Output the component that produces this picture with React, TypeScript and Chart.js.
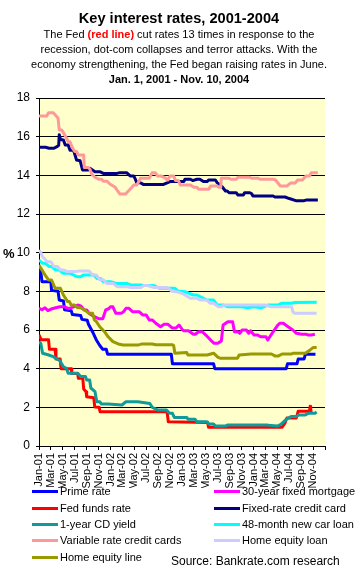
import React, { useEffect, useRef } from 'react';
import { Chart, registerables } from 'chart.js';

Chart.register(...registerables);

// X tick labels (every two months, x value = months since Jan 1, 2001)
const xTickLabels = [
  'Jan-01', 'Mar-01', 'May-01', 'Jul-01', 'Sep-01', 'Nov-01',
  'Jan-02', 'Mar-02', 'May-02', 'Jul-02', 'Sep-02', 'Nov-02',
  'Jan-03', 'Mar-03', 'May-03', 'Jul-03', 'Sep-03', 'Nov-03',
  'Jan-04', 'Mar-04', 'May-04', 'Jul-04', 'Sep-04', 'Nov-04',
];

// Prime rate
const primeM = [0, 0.3, 0.5, 2.0, 2.1, 3.2, 3.4, 4.1, 4.3, 5.4, 5.6, 7.0, 7.2, 8.1, 8.3, 9.0, 9.6, 10.2, 10.7, 11.3, 11.5, 22.2, 22.4, 29.3, 29.5, 41.5, 41.7, 43.3, 43.5, 44.5, 44.7, 46.4];
const primeV = [9.2, 9.0, 8.5, 8.5, 8.05, 8.0, 7.55, 7.5, 7.05, 7.0, 6.8, 6.75, 6.55, 6.5, 6.3, 5.9, 5.5, 5.2, 5.0, 5.0, 4.75, 4.75, 4.25, 4.25, 4.0, 4.0, 4.25, 4.25, 4.5, 4.5, 4.75, 4.75];

// 30-year fixed mortgage
const mortM = [0, 0.5, 1.0, 1.5, 2.2, 2.8, 3.5, 4.3, 5.0, 5.8, 6.5, 7.0, 7.6, 8.0, 8.4, 9.3, 10.1, 10.7, 11.2, 11.7, 12.0, 12.4, 12.9, 13.8, 14.2, 14.6, 15.1, 15.7, 16.8, 17.4, 18.0, 18.5, 19.0, 19.6, 20.4, 21.0, 21.6, 22.4, 23.0, 23.5, 24.1, 24.3, 25.1, 25.9, 26.2, 26.8, 27.4, 28.0, 28.8, 29.4, 30.0, 30.6, 30.9, 31.7, 32.5, 32.8, 33.4, 33.7, 34.1, 34.8, 35.2, 35.5, 36.1, 36.7, 37.2, 38.1, 38.4, 39.2, 40.1, 40.4, 41.0, 41.8, 42.6, 43.2, 44.1, 44.9, 45.2, 45.7, 46.3];
const mortV = [7.12, 7.05, 7.15, 7.0, 7.1, 7.15, 7.2, 7.2, 7.1, 7.2, 7.29, 7.25, 7.04, 7.04, 6.86, 6.69, 6.58, 6.58, 7.04, 7.1, 7.2, 7.2, 6.86, 6.86, 6.95, 7.12, 7.12, 6.95, 6.95, 6.78, 6.78, 6.52, 6.52, 6.35, 6.17, 6.3, 6.3, 6.1, 6.1, 6.26, 6.0, 5.96, 5.96, 5.78, 5.78, 5.91, 5.91, 5.74, 5.48, 5.31, 5.31, 5.43, 6.26, 6.43, 6.43, 5.91, 5.91, 5.83, 6.0, 6.0, 5.83, 5.96, 5.74, 5.74, 5.65, 5.65, 5.48, 5.87, 6.26, 6.35, 6.35, 6.17, 6.0, 5.83, 5.78, 5.78, 5.74, 5.74, 5.78];

// Fed funds rate
const fedM = [0, 0.35, 1.6, 1.75, 2.7, 2.85, 3.55, 3.7, 5.4, 5.5, 6.5, 6.6, 7.35, 7.5, 7.9, 8.0, 9.2, 9.35, 10.1, 10.25, 21.5, 21.7, 28.3, 28.45, 40.8, 41.3, 41.6, 43.2, 43.5, 45.4, 45.5, 45.6, 45.9];
const fedV = [5.75, 5.5, 5.5, 5.0, 5.0, 4.5, 4.5, 4.0, 4.0, 3.75, 3.75, 3.5, 3.5, 2.95, 2.8, 2.55, 2.5, 2.02, 2.0, 1.77, 1.77, 1.25, 1.22, 0.97, 0.97, 1.2, 1.45, 1.45, 1.8, 1.8, 2.05, 1.8, 1.8];

// Fixed-rate credit card
const fixM = [0, 1.1, 1.7, 2.5, 3.1, 3.3, 3.4, 3.6, 4.1, 4.4, 4.9, 5.2, 5.8, 6.05, 6.3, 6.9, 7.1, 7.3, 8.3, 8.6, 9.4, 10.2, 10.8, 13.1, 13.6, 14.7, 15.3, 15.9, 16.1, 16.4, 17.0, 17.5, 20.9, 21.4, 22.0, 24.3, 24.5, 25.4, 25.8, 26.5, 27.0, 27.6, 28.2, 28.5, 29.6, 29.9, 30.7, 31.3, 31.6, 31.9, 33.1, 33.4, 34.3, 34.5, 35.4, 35.7, 35.9, 39.3, 39.6, 41.3, 42.0, 43.1, 44.5, 44.8, 46.8];
const fixV = [15.45, 15.45, 15.4, 15.4, 15.5, 15.55, 16.1, 15.85, 15.83, 15.57, 15.57, 15.3, 15.3, 15.05, 14.79, 14.75, 14.53, 14.28, 14.28, 14.36, 14.19, 14.19, 14.1, 14.1, 14.14, 14.14, 13.97, 13.97, 13.85, 13.62, 13.62, 13.53, 13.53, 13.6, 13.68, 13.68, 13.8, 13.8, 13.73, 13.8, 13.8, 13.68, 13.68, 13.76, 13.76, 13.62, 13.42, 13.19, 13.19, 13.1, 13.1, 12.98, 12.98, 13.1, 13.1, 13.05, 12.93, 12.93, 12.88, 12.88, 12.8, 12.69, 12.69, 12.72, 12.72];

// 1-year CD yield
const cdM = [0, 0.3, 0.6, 1.5, 2.4, 3.0, 3.5, 4.1, 4.6, 4.9, 6.5, 7.0, 7.8, 8.0, 8.5, 8.7, 9.4, 9.7, 10.2, 10.5, 11.6, 13.9, 14.6, 16.6, 18.6, 19.0, 20.0, 21.4, 21.9, 22.4, 22.7, 24.8, 25.0, 26.2, 26.5, 28.2, 28.5, 29.3, 29.6, 31.3, 31.6, 38.4, 40.0, 40.6, 41.5, 42.3, 43.2, 43.5, 44.6, 45.2, 46.3, 46.6];
const cdV = [5.4, 5.3, 4.8, 4.72, 4.62, 4.5, 4.41, 4.1, 4.02, 3.76, 3.76, 3.59, 3.59, 3.41, 3.41, 3.0, 2.81, 2.29, 2.29, 2.17, 2.17, 2.12, 2.29, 2.29, 2.2, 2.0, 1.86, 1.86, 1.69, 1.69, 1.48, 1.48, 1.38, 1.38, 1.26, 1.26, 1.14, 1.14, 1.03, 1.03, 1.08, 1.08, 1.03, 1.12, 1.38, 1.52, 1.52, 1.6, 1.6, 1.69, 1.69, 1.76];

// 48-month new car loan
const carM = [0, 0.6, 1.1, 1.7, 2.2, 2.8, 3.4, 4.1, 5.2, 6.4, 7.0, 7.5, 9.2, 9.7, 10.3, 10.8, 12.0, 13.1, 14.8, 15.4, 17.1, 17.6, 19.3, 20.2, 22.8, 23.3, 24.5, 25.9, 26.5, 28.2, 29.3, 29.9, 31.0, 31.7, 34.0, 35.0, 36.0, 37.3, 38.4, 40.1, 40.7, 42.4, 42.9, 46.6];
const carV = [9.62, 9.45, 9.45, 9.28, 9.28, 9.1, 9.1, 8.93, 8.93, 8.76, 8.76, 8.85, 8.85, 8.67, 8.67, 8.5, 8.5, 8.4, 8.4, 8.33, 8.33, 8.3, 8.3, 8.16, 8.16, 8.02, 7.98, 7.81, 7.81, 7.55, 7.55, 7.29, 7.29, 7.2, 7.2, 7.15, 7.2, 7.15, 7.29, 7.29, 7.38, 7.38, 7.42, 7.43];

// Variable rate credit cards
const varM = [0, 1.3, 1.6, 2.4, 2.8, 3.2, 3.4, 3.8, 4.1, 4.65, 4.9, 5.2, 5.65, 6.0, 6.3, 6.6, 7.5, 7.6, 8.3, 8.6, 8.85, 9.4, 10.0, 10.5, 10.8, 11.4, 11.9, 12.8, 13.2, 13.6, 14.5, 15.0, 15.6, 15.9, 16.4, 16.8, 17.0, 18.5, 19.0, 19.5, 19.9, 20.4, 21.0, 21.6, 22.0, 22.6, 22.9, 23.4, 23.7, 25.4, 26.0, 26.5, 26.8, 28.5, 28.8, 29.9, 30.2, 30.5, 30.6, 31.9, 32.2, 33.1, 33.4, 35.4, 35.7, 36.8, 37.1, 39.3, 39.7, 40.5, 41.6, 42.2, 43.0, 43.4, 44.2, 44.8, 45.4, 45.7, 46.8];
const varV = [17.07, 17.07, 17.24, 17.24, 17.1, 16.95, 16.35, 16.35, 16.2, 15.9, 15.74, 15.74, 15.4, 15.23, 15.23, 15.05, 15.05, 14.41, 14.41, 14.28, 14.06, 13.9, 13.8, 13.8, 13.7, 13.7, 13.55, 13.38, 13.19, 13.03, 13.03, 13.19, 13.38, 13.5, 13.5, 13.7, 13.85, 13.85, 14.14, 14.14, 13.97, 13.97, 13.9, 13.76, 13.97, 13.97, 13.73, 13.73, 13.5, 13.5, 13.38, 13.38, 13.28, 13.28, 13.45, 13.45, 13.38, 13.38, 13.85, 13.85, 13.8, 13.8, 13.9, 13.9, 13.85, 13.85, 13.8, 13.8, 13.76, 13.45, 13.45, 13.6, 13.6, 13.76, 13.76, 13.97, 13.97, 14.14, 14.14];

// Home equity loan
const heLoanM = [0, 0.3, 0.6, 1.4, 2.0, 2.5, 3.1, 3.6, 4.2, 4.7, 6.2, 6.7, 8.4, 9.0, 9.6, 10.2, 10.8, 11.4, 12.5, 13.1, 14.8, 15.4, 17.1, 17.6, 18.2, 19.3, 21.6, 22.2, 23.5, 24.3, 25.4, 26.5, 27.1, 28.2, 28.7, 29.3, 30.1, 30.7, 31.0, 37.9, 39.0, 42.4, 42.6, 42.9, 46.6];
const heLoanV = [10.14, 10.0, 9.79, 9.53, 9.53, 9.28, 9.28, 9.1, 9.1, 9.02, 9.02, 9.05, 9.05, 8.85, 8.85, 8.6, 8.6, 8.4, 8.4, 8.24, 8.24, 8.2, 8.2, 8.3, 8.3, 8.2, 8.2, 8.02, 7.95, 7.85, 7.64, 7.64, 7.55, 7.55, 7.38, 7.38, 7.2, 7.2, 7.29, 7.29, 7.2, 7.2, 6.95, 6.86, 6.86];

// Home equity line
const heLineM = [0, 0.3, 1.0, 1.6, 2.1, 2.7, 3.6, 4.1, 4.8, 5.1, 5.4, 6.0, 6.5, 7.0, 7.6, 8.4, 9.0, 9.3, 9.6, 10.2, 11.0, 11.6, 12.4, 13.3, 14.1, 16.6, 17.3, 19.0, 19.6, 22.4, 22.6, 22.8, 24.8, 25.0, 28.2, 29.3, 30.0, 30.4, 33.3, 33.6, 35.6, 39.0, 39.6, 40.2, 40.8, 42.4, 42.7, 44.7, 45.5, 46.0, 46.6];
const heLineV = [9.36, 9.2, 8.85, 8.59, 8.59, 8.16, 8.16, 7.81, 7.47, 7.47, 7.29, 7.29, 7.15, 7.15, 7.04, 6.86, 6.86, 6.52, 6.45, 6.17, 5.91, 5.65, 5.4, 5.28, 5.22, 5.22, 5.28, 5.28, 5.24, 5.24, 5.2, 4.8, 4.83, 4.71, 4.71, 4.8, 4.6, 4.54, 4.54, 4.71, 4.76, 4.76, 4.66, 4.66, 4.76, 4.76, 4.8, 4.8, 4.97, 5.09, 5.09];

const seriesNames = [
  'Prime rate', '30-year fixed mortgage', 'Fed funds rate', 'Fixed-rate credit card',
  '1-year CD yield', '48-month new car loan', 'Variable rate credit cards',
  'Home equity loan', 'Home equity line',
];
const seriesColors = [
  '#0000FF', '#FF00FF', '#FF0000', '#000080',
  '#119A9A', '#00FFFF', '#FF9999', '#CCCCFF', '#999900',
];
const seriesData = [
  [primeM, primeV], [mortM, mortV], [fedM, fedV], [fixM, fixV],
  [cdM, cdV], [carM, carV], [varM, varV], [heLoanM, heLoanV], [heLineM, heLineV],
];

const FONT = '"Liberation Sans", Arial, Helvetica, sans-serif';

const plotBg = {
  id: 'plotBg',
  beforeDraw(chart: any) {
    const { ctx, chartArea: a } = chart;
    ctx.save();
    ctx.fillStyle = '#FFFFCC';
    ctx.fillRect(a.left, a.top, a.right - a.left, a.bottom - a.top);
    ctx.restore();
  },
};

export default function App() {
  const ref = useRef<HTMLCanvasElement | null>(null);

  useEffect(() => {
    if (!ref.current) return;
    const datasets = seriesData.map(([xs, ys], i) => ({
      label: seriesNames[i],
      data: xs.map((x, j) => ({ x, y: ys[j] })),
      borderColor: seriesColors[i],
      backgroundColor: seriesColors[i],
      borderWidth: 3,
      borderJoinStyle: 'round' as const,
      borderCapStyle: 'butt' as const,
      pointRadius: 0,
      tension: 0,
      fill: false,
      order: 20 - i,
    }));
    const chart = new Chart(ref.current, {
      type: 'line',
      data: { datasets },
      plugins: [plotBg],
      options: {
        animation: false,
        responsive: false,
        devicePixelRatio: 1,
        layout: { padding: { top: 98, left: 0, right: 36, bottom: 84 } },
        plugins: { legend: { display: false }, tooltip: { enabled: false }, title: { display: false } },
        scales: {
          x: {
            type: 'linear',
            min: 0,
            max: 48,
            afterFit: (s: any) => { s.height = 42; },
            ticks: {
              stepSize: 2,
              autoSkip: false,
              maxRotation: 90,
              minRotation: 90,
              padding: 3,
              color: '#000',
              font: { family: '"Liberation Sans Narrow", ' + FONT, size: 11 },
              callback: (v: any) => xTickLabels[Math.round(Number(v) / 2)] ?? '',
            },
            grid: { drawOnChartArea: false, drawTicks: true, tickLength: 4, color: '#000', lineWidth: 1 },
            border: { color: '#000', width: 1 },
          },
          y: {
            min: 0,
            max: 18,
            afterFit: (s: any) => { s.width = 39; },
            ticks: { stepSize: 2, color: '#000', padding: 6, font: { family: FONT, size: 12 } },
            grid: { color: '#000', lineWidth: 1, tickLength: 3 },
            border: { color: '#000', width: 1 },
          },
        },
      },
    });
    return () => chart.destroy();
  }, []);

  const abs = (s: React.CSSProperties): React.CSSProperties => ({ position: 'absolute', whiteSpace: 'nowrap', ...s });
  const rowsY = [484, 501, 517, 533, 550];
  const legendLeft = seriesNames.map((_, i) => (i % 2 === 0 ? 32 : 214));
  const legendRow = seriesNames.map((_, i) => Math.floor(i / 2));

  return (
    <div style={{ position: 'absolute', left: 0, top: 0, width: 361, height: 572, fontFamily: FONT, color: '#000', background: '#fff' }}>
      <canvas ref={ref} width={361} height={572} style={{ position: 'absolute', left: 0, top: 0, width: 361, height: 572 }} />
      <div style={abs({ left: 0, width: 358, top: 9, textAlign: 'center', fontWeight: 'bold', fontSize: 14.6, lineHeight: '18px' })}>
        Key interest rates, 2001-2004
      </div>
      <div style={abs({ left: 0, width: 358, top: 27, textAlign: 'center', fontSize: 11, lineHeight: '15px' })}>
        The Fed <span style={{ color: '#FF0000', fontWeight: 'bold' }}>(red line)</span> cut rates 13 times in response to the
      </div>
      <div style={abs({ left: 0, width: 358, top: 42, textAlign: 'center', fontSize: 11, lineHeight: '15px' })}>
        recession, dot-com collapses and terror attacks. With the
      </div>
      <div style={abs({ left: 0, width: 358, top: 57, textAlign: 'center', fontSize: 11, lineHeight: '15px' })}>
        economy strengthening, the Fed began raising rates in June.
      </div>
      <div style={abs({ left: 0, width: 358, top: 72, textAlign: 'center', fontSize: 11, fontWeight: 'bold', lineHeight: '15px' })}>
        Jan. 1, 2001 - Nov. 10, 2004
      </div>
      <div style={abs({ left: 3, top: 246, fontSize: 13, fontWeight: 'bold', lineHeight: '15px' })}>%</div>
      {seriesNames.map((name, i) => (
        <React.Fragment key={name}>
          <div style={abs({ left: legendLeft[i], top: rowsY[legendRow[i]] + 6, width: 26, height: 3, background: seriesColors[i] })} />
          <div style={abs({ left: legendLeft[i] + 28, top: rowsY[legendRow[i]], fontSize: 11, lineHeight: '14px' })}>{name}</div>
        </React.Fragment>
      ))}
      <div style={abs({ left: 171, top: 554, fontSize: 12, lineHeight: '14px' })}>Source: Bankrate.com research</div>
    </div>
  );
}
